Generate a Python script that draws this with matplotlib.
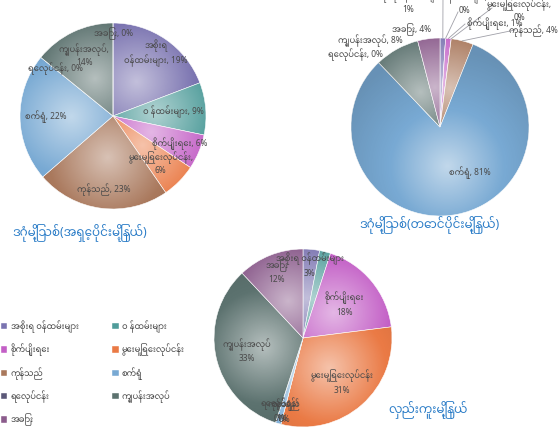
import matplotlib
matplotlib.use('Agg')
import matplotlib.pyplot as plt
from matplotlib.patches import Patch
import numpy as np

plt.rcParams['font.family'] = ['Noto Sans Myanmar', 'Padauk', 'Myanmar Text', 'DejaVu Sans']

categories = ['အစိုးရ ဝန်ထမ်းများ', 'ဝ န်ထမ်းများ', 'စိုက်ပျိုးရေး', 'မွေးမြူရေးလုပ်ငန်း',
              'ကုန်သည်', 'စက်ရုံ', 'ရေလုပ်ငန်း', 'ကျွပန်းအလုပ်', 'အခြား']
colors = ['#7a73b0', '#4f9c9a', '#c35fc6', '#ea7a45', '#a9785c',
          '#78a9d3', '#5b5878', '#5c726f', '#8b5c8c']

east = [19, 9, 6, 6, 23, 22, 0, 14, 0]
south = [1, 0, 1, 0, 4, 81, 0, 8, 4]
hlaing = [3, 2, 18, 31, 0, 1, 0, 33, 12]

title_east = 'ဒဂုံမြို့သစ်(အရှေ့ပိုင်းမြို့နယ်)'
title_south = 'ဒဂုံမြို့သစ်(တောင်ပိုင်းမြို့နယ်)'
title_hlaing = 'လှည်းကူးမြို့နယ်'

W, H = 560, 440
fig = plt.figure(figsize=(5.6, 4.4), dpi=100)
ax = fig.add_axes([0, 0, 1, 1])
ax.axis('off')

TXT = '#4a4a4a'
BLUE = '#2a7cc7'
FS = 6
TFS = 8.6


def Y(py):
    return H - py


def shade(wedge, cx, cy, r):
    # radial highlight inside each slice, a bit darker towards the rim
    if abs(wedge.theta2 - wedge.theta1) < 0.5:
        return
    mid = np.deg2rad((wedge.theta1 + wedge.theta2) / 2)
    px, py = cx + 0.45 * r * np.cos(mid), cy + 0.45 * r * np.sin(mid)
    xs = np.linspace(cx - r, cx + r, 240)
    ys = np.linspace(cy - r, cy + r, 240)
    gx, gy = np.meshgrid(xs, ys)
    d = np.hypot(gx - px, gy - py) / r
    v = 0.55 - d * 0.85
    img = np.zeros(gx.shape + (4,))
    pos = v > 0
    img[pos, :3] = 1.0
    img[pos, 3] = v[pos]
    img[~pos, 3] = np.clip(-v[~pos] * 0.25, 0, 0.14)
    im = ax.imshow(img, extent=(cx - r, cx + r, cy - r, cy + r), origin='lower',
                   zorder=3, interpolation='bilinear')
    im.set_clip_path(wedge)


def draw_pie(vals, cx, cy, r):
    wedges, _ = ax.pie(vals, colors=colors, center=(cx, Y(cy)), radius=r,
                       startangle=90, counterclock=False,
                       wedgeprops=dict(linewidth=0.4, edgecolor='white'))
    for w in wedges:
        w.set_zorder(2)
        shade(w, cx, Y(cy), r)
    return wedges


def mid_xy(w, frac):
    a = np.deg2rad((w.theta1 + w.theta2) / 2)
    cx, cy = w.center
    return cx + frac * w.r * np.cos(a), cy + frac * w.r * np.sin(a)


# --- chart 1 ---
w1 = draw_pie(east, 113, 116, 93)
lab1 = ['အစိုးရ\nဝန်ထမ်းများ, %d%%', 'ဝ န်ထမ်းများ, %d%%', 'စိုက်ပျိုးရေး, %d%%',
        'မွေးမြူရေးလုပ်ငန်း,\n%d%%', 'ကုန်သည်, %d%%', 'စက်ရုံ, %d%%',
        'ရေလုပ်ငန်း, %d%%', 'ကျွပန်းအလုပ်,\n%d%%', 'အခြား, %d%%']
frac1 = [0.82, 0.65, 0.78, 0.72, 0.8, 0.72, 0.8, 0.72, 0.88]
for w, t, v, f in zip(w1, lab1, east, frac1):
    x, y = mid_xy(w, f)
    ax.text(x, y, t % v, ha='center', va='center', fontsize=FS, color=TXT,
            zorder=5, linespacing=1.3)
ax.text(12, Y(233), title_east, ha='left', va='center', fontsize=TFS, color=BLUE)

# --- chart 2 ---
w2 = draw_pie(south, 440, 127, 89)
lab2 = ['အစိုးရ ဝန်ထမ်းများ,\n%d%%', 'ဝ န်ထမ်းများ,\n%d%%', 'စိုက်ပျိုးရေး, %d%%',
        'မွေးမြူရေးလုပ်ငန်း,\n%d%%', 'ကုန်သည်, %d%%', 'စက်ရုံ, %d%%',
        'ရေလုပ်ငန်း, %d%%', 'ကျွပန်းအလုပ်, %d%%', 'အခြား, %d%%']
pos2 = [(408, 2), (464, 3), (495, 24), (519, 10), (533, 31), (470, 173),
        (355, 55), (370, 41), (412, 30)]
lead2 = [(443, -4), (458, 12), (465, 24), (492, 8), (515, 30), None,
         None, None, None]
for w, t, v, p, l in zip(w2, lab2, south, pos2, lead2):
    if l is not None:
        x0, y0 = mid_xy(w, 1.0)
        ax.plot([x0, l[0]], [y0, Y(l[1])], color='#a0a0a8', lw=0.6, zorder=4)
    ax.text(p[0], Y(p[1]), t % v, ha='center', va='center', fontsize=FS,
            color=TXT, zorder=5, linespacing=1.3)
ax.text(430, Y(225), title_south, ha='center', va='center', fontsize=TFS, color=BLUE)

# --- chart 3 ---
w3 = draw_pie(hlaing, 303, 338, 89)
lab3 = ['အစိုးရ ဝန်ထမ်းများ\n%d%%', None, 'စိုက်ပျိုးရေး\n%d%%', 'မွေးမြူရေးလုပ်ငန်း\n%d%%',
        'ကုန်သည်\n%d%%', 'စက်ရုံ\n%d%%', 'ရေလုပ်ငန်း\n%d%%', 'ကျွပန်းအလုပ်\n%d%%',
        'အခြား\n%d%%']
frac3 = [0.82, 0, 0.6, 0.66, 0.85, 0.85, 0.85, 0.65, 0.8]
for w, t, v, f in zip(w3, lab3, hlaing, frac3):
    if t is None:
        continue
    x, y = mid_xy(w, f)
    ax.text(x, y, t % v, ha='center', va='center', fontsize=FS, color=TXT,
            zorder=5, linespacing=1.5)
ax.text(428, Y(410), title_hlaing, ha='center', va='center', fontsize=TFS, color=BLUE)

# --- legend ---
order = [0, 2, 4, 6, 8, 1, 3, 5, 7]
handles = [Patch(facecolor=colors[i], edgecolor='white', linewidth=0.3,
                 label=categories[i]) for i in order]
fig.legend(handles=handles, ncol=2, loc='upper left',
           bbox_to_anchor=(-0.012, 1 - 313 / H), frameon=False, fontsize=FS,
           handlelength=0.8, handleheight=0.8, handletextpad=0.4,
           columnspacing=4.0, labelspacing=1.28, labelcolor=TXT)

ax.set_xlim(0, W)
ax.set_ylim(0, H)
ax.set_aspect('equal')
fig.savefig('out.png', dpi=100)
